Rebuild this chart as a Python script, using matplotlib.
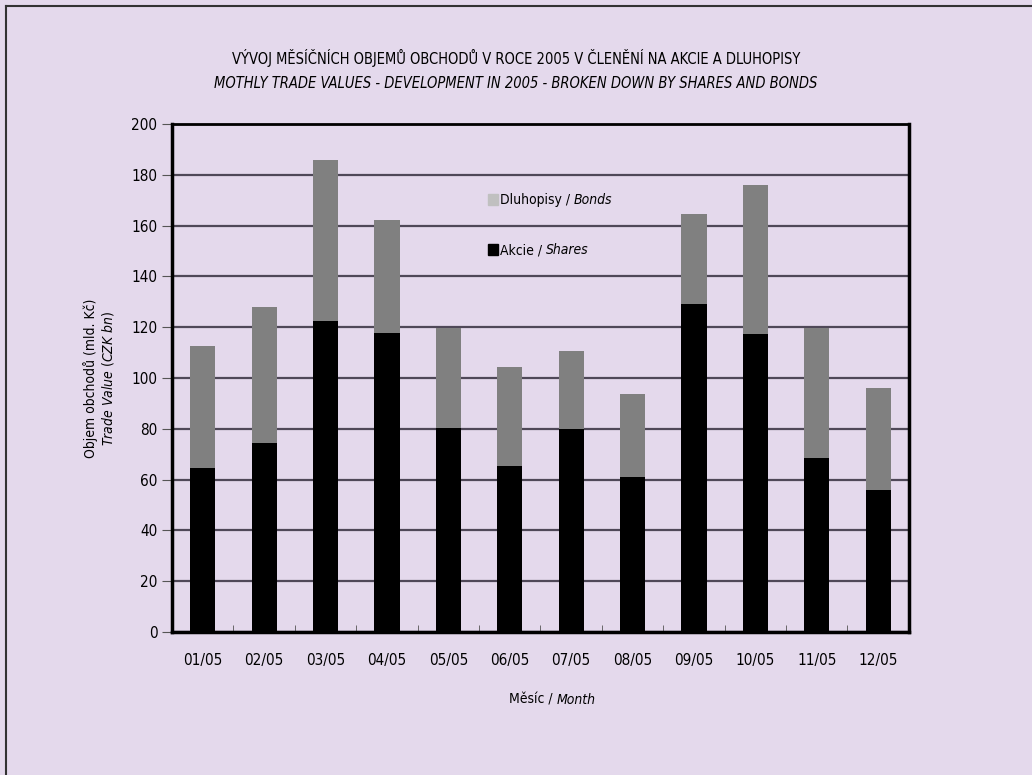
import numpy as np
import matplotlib.pyplot as plt
from matplotlib.lines import Line2D
from matplotlib.patches import Rectangle

months = ['01/05', '02/05', '03/05', '04/05', '05/05', '06/05',
          '07/05', '08/05', '09/05', '10/05', '11/05', '12/05']
shares = [64.6, 74.4, 122.4, 117.8, 80.3, 65.4, 79.9, 61.0, 129.1, 117.3, 68.5, 55.9]
totals = [112.6, 128.0, 185.8, 162.2, 119.6, 104.3, 110.6, 93.7, 164.6, 176.0, 119.6, 96.1]
bonds = [t - s for t, s in zip(totals, shares)]

bg = '#e4d9ec'
plt.rcParams['font.family'] = ['DejaVu Sans']
plt.rcParams['font.stretch'] = 'condensed'

fig = plt.figure(figsize=(10.32, 7.75), dpi=100, facecolor=bg)
ax = fig.add_axes([0.1667, 0.1845, 0.714, 0.6555], facecolor=bg)

x = np.arange(len(months))
ax.bar(x, shares, width=0.41, color='black', zorder=3)
ax.bar(x, bonds, width=0.41, bottom=shares, color='#808080', zorder=3)

ax.set_xlim(-0.5, len(months) - 0.5)
ax.set_ylim(0, 200)
ax.set_yticks(np.arange(0, 201, 20))
ax.yaxis.grid(True, color='#4f4858', linewidth=1.6, zorder=1)
ax.set_xticks(x)
ax.set_xticklabels(months, fontsize=11)
ax.tick_params(axis='x', length=0, pad=15)
ax.set_xticks(np.arange(-0.5, len(months)), minor=True)
ax.tick_params(axis='x', which='minor', direction='in', length=5, color='#555555')
ax.tick_params(axis='y', direction='out', length=7, labelsize=11, color='#555555')

for side in ['left', 'bottom', 'right']:
    ax.spines[side].set_linewidth(2.5)
ax.spines['top'].set_linewidth(2)

ax.set_ylabel('Objem obchodů (mld. Kč)\n$\\it{Trade\\ Value\\ (CZK\\ bn)}$', fontsize=10, labelpad=11)


def mixed_text(x0, y0, plain, ital, center=False):
    # plain part followed by italic part, on one baseline
    t = fig.text(x0, y0, plain, fontsize=10)
    fig.canvas.draw()
    bb = t.get_window_extent()
    w = bb.width / fig.bbox.width
    t2 = fig.text(x0 + w, y0, ital, fontsize=10, style='italic')
    if center:
        fig.canvas.draw()
        w2 = t2.get_window_extent().width / fig.bbox.width
        shift = (w + w2) / 2
        t.set_x(x0 - shift)
        t2.set_x(x0 - shift + w)


mixed_text(0.535, 0.092, 'Měsíc / ', 'Month', center=True)

fig.text(0.5, 0.918, 'VÝVOJ MĚSÍČNÍCH OBJEMŮ OBCHODŮ V ROCE 2005 V ČLENĚNÍ NA AKCIE A DLUHOPISY',
         ha='center', fontsize=10.5)
fig.text(0.5, 0.887, 'MOTHLY TRADE VALUES - DEVELOPMENT IN 2005 - BROKEN DOWN BY SHARES AND BONDS',
         ha='center', fontsize=10.5, style='italic')

# legend drawn manually
for yy, col, lab, ital in [(0.737, '#c0c0c0', 'Dluhopisy / ', 'Bonds'),
                            (0.672, 'black', 'Akcie / ', 'Shares')]:
    fig.patches.append(Rectangle((0.4725, yy - 0.001), 0.0105, 0.014, color=col,
                                 transform=fig.transFigure))
    mixed_text(0.4845, yy, lab, ital)

fig.lines.append(Line2D([0.006, 1], [0.992, 0.992], color='#333333', linewidth=1.5,
                        transform=fig.transFigure))
fig.lines.append(Line2D([0.006, 0.006], [0, 0.992], color='#333333', linewidth=1.5,
                        transform=fig.transFigure))

fig.savefig('out.png', dpi=100, facecolor=bg)
